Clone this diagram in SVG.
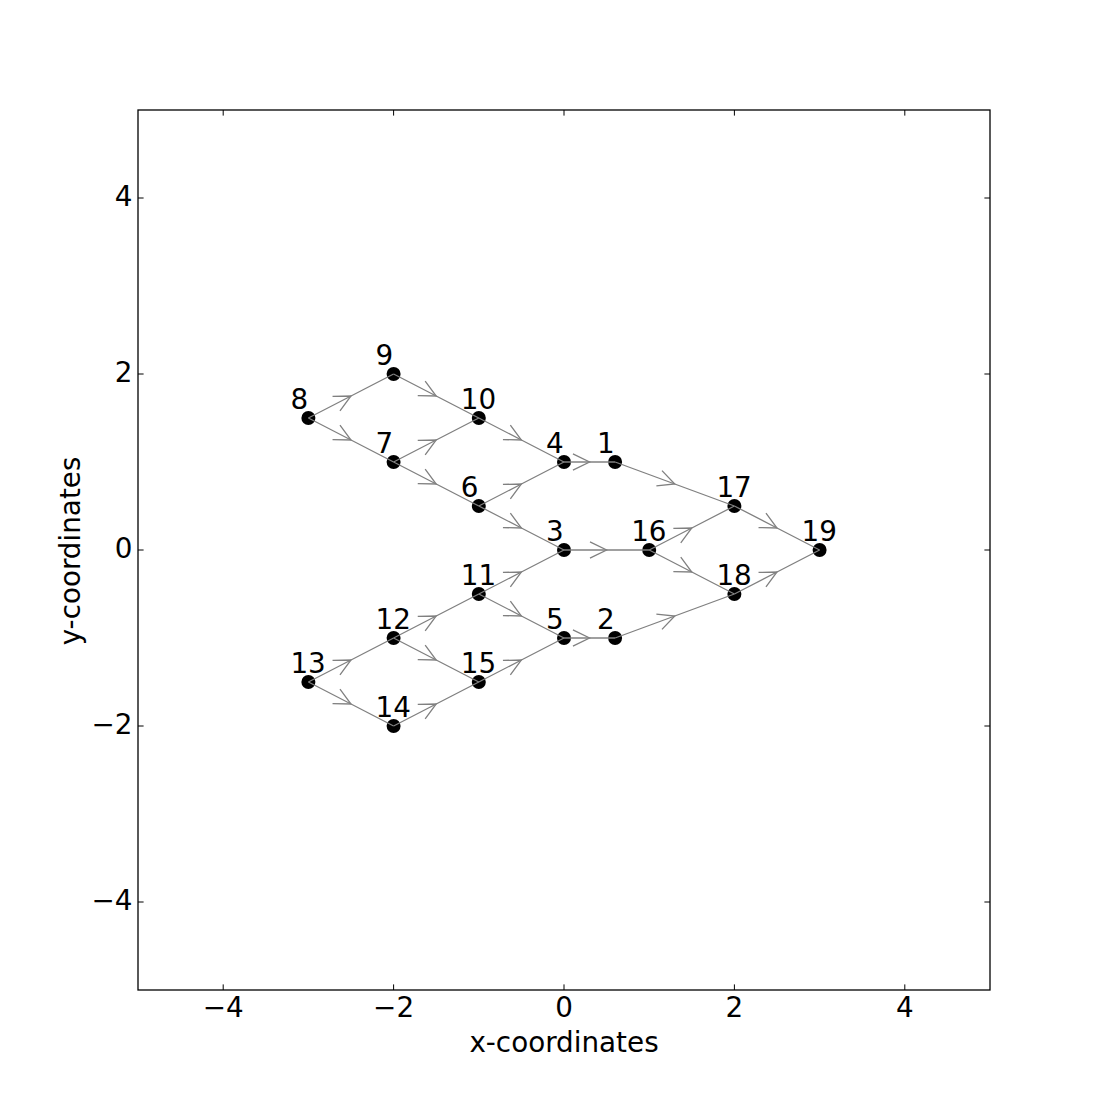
<svg xmlns="http://www.w3.org/2000/svg" width="1100" height="1100" viewBox="0 0 1100 1100">
<style>
text{font-family:"DejaVu Sans","Liberation Sans",sans-serif;font-size:27.8px;fill:#000}
.lbl{text-anchor:start}
.edge{fill:none;stroke:#808080;stroke-width:1.3;marker-mid:url(#arr)}
.tick{stroke:#000;stroke-width:1}
.node circle{fill:#000}
.xt{text-anchor:middle}
.yt{text-anchor:end}
</style>
<defs>
<marker id="arr" markerUnits="userSpaceOnUse" orient="auto" markerWidth="40" markerHeight="40" refX="0" refY="0" overflow="visible">
<path d="M-16.6,-8.1 L0,0 L-16.6,8.1" fill="none" stroke="#808080" stroke-width="1.3"/>
</marker>
</defs>
<rect x="0" y="0" width="1100" height="1100" fill="#fff"/>
<rect x="138" y="110" width="852" height="880" fill="#fff" stroke="#000" stroke-width="1.3"/>
<g id="ticks">
<path class="tick" d="M223.2,990v-5.6M393.6,990v-5.6M564,990v-5.6M734.4,990v-5.6M904.8,990v-5.6M223.2,110v5.6M393.6,110v5.6M564,110v5.6M734.4,110v5.6M904.8,110v5.6M138,198h5.6M138,374h5.6M138,550h5.6M138,726h5.6M138,902h5.6M990,198h-5.6M990,374h-5.6M990,550h-5.6M990,726h-5.6M990,902h-5.6"/>
<text class="xt" x="223.2" y="1017">−4</text>
<text class="xt" x="393.6" y="1017">−2</text>
<text class="xt" x="564" y="1017">0</text>
<text class="xt" x="734.4" y="1017">2</text>
<text class="xt" x="904.8" y="1017">4</text>
<text class="yt" x="132.5" y="206">4</text>
<text class="yt" x="132.5" y="382">2</text>
<text class="yt" x="132.5" y="558">0</text>
<text class="yt" x="132.5" y="734">−2</text>
<text class="yt" x="132.5" y="910">−4</text>
<text x="564" y="1052" text-anchor="middle">x-coordinates</text>
<text transform="translate(80,551) rotate(-90)" text-anchor="middle">y-coordinates</text>
</g>
<g id="nodes">
<g id="n1" class="node"><circle cx="615.1" cy="462" r="7"/><text class="lbl" x="597.1" y="453">1</text></g>
<g id="n2" class="node"><circle cx="615.1" cy="638" r="7"/><text class="lbl" x="597.1" y="629">2</text></g>
<g id="n3" class="node"><circle cx="564" cy="550" r="7"/><text class="lbl" x="546" y="541">3</text></g>
<g id="n4" class="node"><circle cx="564" cy="462" r="7"/><text class="lbl" x="546" y="453">4</text></g>
<g id="n5" class="node"><circle cx="564" cy="638" r="7"/><text class="lbl" x="546" y="629">5</text></g>
<g id="n6" class="node"><circle cx="478.8" cy="506" r="7"/><text class="lbl" x="460.8" y="497">6</text></g>
<g id="n7" class="node"><circle cx="393.6" cy="462" r="7"/><text class="lbl" x="375.6" y="453">7</text></g>
<g id="n8" class="node"><circle cx="308.4" cy="418" r="7"/><text class="lbl" x="290.4" y="409">8</text></g>
<g id="n9" class="node"><circle cx="393.6" cy="374" r="7"/><text class="lbl" x="375.6" y="365">9</text></g>
<g id="n10" class="node"><circle cx="478.8" cy="418" r="7"/><text class="lbl" x="460.8" y="409">10</text></g>
<g id="n11" class="node"><circle cx="478.8" cy="594" r="7"/><text class="lbl" x="460.8" y="585">11</text></g>
<g id="n12" class="node"><circle cx="393.6" cy="638" r="7"/><text class="lbl" x="375.6" y="629">12</text></g>
<g id="n13" class="node"><circle cx="308.4" cy="682" r="7"/><text class="lbl" x="290.4" y="673">13</text></g>
<g id="n14" class="node"><circle cx="393.6" cy="726" r="7"/><text class="lbl" x="375.6" y="717">14</text></g>
<g id="n15" class="node"><circle cx="478.8" cy="682" r="7"/><text class="lbl" x="460.8" y="673">15</text></g>
<g id="n16" class="node"><circle cx="649.2" cy="550" r="7"/><text class="lbl" x="631.2" y="541">16</text></g>
<g id="n17" class="node"><circle cx="734.4" cy="506" r="7"/><text class="lbl" x="716.4" y="497">17</text></g>
<g id="n18" class="node"><circle cx="734.4" cy="594" r="7"/><text class="lbl" x="716.4" y="585">18</text></g>
<g id="n19" class="node"><circle cx="819.6" cy="550" r="7"/><text class="lbl" x="801.6" y="541">19</text></g>
</g>
<g id="connectors">
<path class="edge" d="M308.4,418 L351,396 L393.6,374"/>
<path class="edge" d="M308.4,418 L351,440 L393.6,462"/>
<path class="edge" d="M393.6,374 L436.2,396 L478.8,418"/>
<path class="edge" d="M393.6,462 L436.2,440 L478.8,418"/>
<path class="edge" d="M393.6,462 L436.2,484 L478.8,506"/>
<path class="edge" d="M478.8,418 L521.4,440 L564,462"/>
<path class="edge" d="M478.8,506 L521.4,484 L564,462"/>
<path class="edge" d="M478.8,506 L521.4,528 L564,550"/>
<path class="edge" d="M564,462 L589.55,462 L615.1,462"/>
<path class="edge" d="M615.1,462 L674.75,484 L734.4,506"/>
<path class="edge" d="M564,550 L606.6,550 L649.2,550"/>
<path class="edge" d="M649.2,550 L691.8,528 L734.4,506"/>
<path class="edge" d="M649.2,550 L691.8,572 L734.4,594"/>
<path class="edge" d="M734.4,506 L777,528 L819.6,550"/>
<path class="edge" d="M734.4,594 L777,572 L819.6,550"/>
<path class="edge" d="M308.4,682 L351,660 L393.6,638"/>
<path class="edge" d="M308.4,682 L351,704 L393.6,726"/>
<path class="edge" d="M393.6,638 L436.2,616 L478.8,594"/>
<path class="edge" d="M393.6,638 L436.2,660 L478.8,682"/>
<path class="edge" d="M393.6,726 L436.2,704 L478.8,682"/>
<path class="edge" d="M478.8,594 L521.4,572 L564,550"/>
<path class="edge" d="M478.8,594 L521.4,616 L564,638"/>
<path class="edge" d="M478.8,682 L521.4,660 L564,638"/>
<path class="edge" d="M564,638 L589.55,638 L615.1,638"/>
<path class="edge" d="M615.1,638 L674.75,616 L734.4,594"/>
</g>
</svg>
